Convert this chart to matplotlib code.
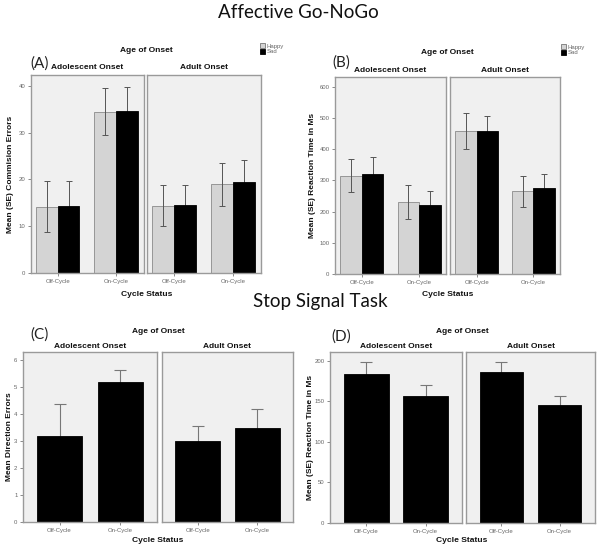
import matplotlib
matplotlib.use("Agg")
import matplotlib.pyplot as plt
from matplotlib.patches import Patch
import numpy as np

# ---------------- data ----------------
onsets = ["Adolescent Onset", "Adult Onset"]
cycles = ["Off-Cycle", "On-Cycle"]
emotions = ["Happy", "Sad"]

# Panel A: Commission errors  [onset][cycle]
a_happy = [[14.2, 34.5], [14.4, 19.0]]
a_happy_se = [[5.4, 5.0], [4.35, 4.6]]
a_sad = [[14.4, 34.7], [14.6, 19.5]]
a_sad_se = [[5.35, 5.1], [4.3, 4.7]]

# Panel B: Reaction time (ms)
b_happy = [[316, 231], [459, 265]]
b_happy_se = [[53, 56], [59, 50]]
b_sad = [[322, 221], [458, 276]]
b_sad_se = [[53, 45], [50, 44]]

# Panel C: direction errors
c_mean = [[3.19, 5.17], [2.99, 3.49]]
c_se = [[1.2, 0.47], [0.55, 0.68]]

# Panel D: SSRT (ms)
d_mean = [[183.6, 156.0], [185.6, 145.4]]
d_se = [[14.4, 14.0], [12.4, 10.6]]

W, H = 604, 551
fig = plt.figure(figsize=(W / 100, H / 100), dpi=100)
fig.patch.set_facecolor("white")

SMALL = ["Liberation Sans", "DejaVu Sans"]
TITLE = ["Lato", "DejaVu Sans"]

def rect(x0, y0, x1, y1):
    return [x0 / W, 1 - y1 / H, (x1 - x0) / W, (y1 - y0) / H]

def ftext(x, y, s, **kw):
    fig.text(x / W, 1 - y / H, s, **kw)

PANEL_BG = "#f0f0f0"
EDGE = "#9a9a9a"
HAPPY = "#d4d4d4"
ERRC = "#555555"

def style_ax(ax, ylim, yticks, show_y):
    ax.set_facecolor(PANEL_BG)
    for s in ax.spines.values():
        s.set_color(EDGE)
        s.set_linewidth(1.0)
    ax.set_ylim(*ylim)
    ax.set_yticks(yticks)
    ax.tick_params(axis="both", length=2.5, width=0.6, color="#777777",
                   labelsize=4.3, labelcolor="#666666", pad=1.5)
    if show_y:
        ax.set_yticklabels([str(t) for t in yticks], fontfamily=SMALL)
    else:
        ax.tick_params(axis="y", left=False, labelleft=False)
    ax.set_xticks(range(len(cycles)))
    ax.set_xticklabels(cycles, fontfamily=SMALL)

def grouped_panel(rects, happy, happy_se, sad, sad_se, ylim, yticks, xlim, w):
    axes = []
    for i, r in enumerate(rects):
        ax = fig.add_axes(r)
        x = np.arange(len(cycles))
        ax.bar(x - w / 2, happy[i], w, color=HAPPY, edgecolor="#8a8a8a",
               linewidth=0.6, zorder=2)
        ax.bar(x + w / 2, sad[i], w, color="black", edgecolor="black",
               linewidth=0.6, zorder=2)
        ax.errorbar(x - w / 2, happy[i], yerr=happy_se[i], fmt="none",
                    ecolor=ERRC, elinewidth=0.7, capsize=2.2, capthick=0.7, zorder=3)
        ax.errorbar(x + w / 2, sad[i], yerr=sad_se[i], fmt="none",
                    ecolor=ERRC, elinewidth=0.7, capsize=2.2, capthick=0.7, zorder=1)
        ax.set_xlim(*xlim)
        style_ax(ax, ylim, yticks, i == 0)
        axes.append(ax)
    return axes

def single_panel(rects, mean, se, ylim, yticks, xlim, w):
    axes = []
    for i, r in enumerate(rects):
        ax = fig.add_axes(r)
        x = np.arange(len(cycles))
        ax.errorbar(x, mean[i], yerr=se[i], fmt="none", ecolor="#777777",
                    elinewidth=0.8, capsize=4.5, capthick=0.8, zorder=1)
        ax.bar(x, mean[i], w, color="black", edgecolor="black", linewidth=0.6,
               zorder=2)
        ax.set_xlim(*xlim)
        style_ax(ax, ylim, yticks, i == 0)
        axes.append(ax)
    return axes

bold_kw = dict(fontfamily=SMALL, fontweight="bold", fontsize=6.0, color="#111111",
               ha="center", va="center")
ylab_kw = dict(fontfamily=SMALL, fontweight="bold", fontsize=6.0, color="#111111",
               ha="center", va="center", rotation=90)

# ---------------- Panel A ----------------
axA = grouped_panel([rect(31, 75, 144, 273), rect(147, 75, 261, 273)],
                    a_happy, a_happy_se, a_sad, a_sad_se,
                    (0, 42.3), [0, 10, 20, 30, 40], (-0.46, 1.48), 0.372)
# ---------------- Panel B ----------------
axB = grouped_panel([rect(335, 77, 446, 274), rect(450, 77, 560, 274)],
                    b_happy, b_happy_se, b_sad, b_sad_se,
                    (0, 632), [0, 100, 200, 300, 400, 500, 600], (-0.47, 1.47), 0.375)
# ---------------- Panel C ----------------
axC = single_panel([rect(23, 352, 157, 522), rect(162, 352, 293, 522)],
                   c_mean, c_se, (0, 6.3), [0, 1, 2, 3, 4, 5, 6], (-0.6, 1.6), 0.75)
# ---------------- Panel D ----------------
axD = single_panel([rect(330, 352, 462, 523), rect(466, 352, 595, 523)],
                   d_mean, d_se, (0, 210.7), [0, 50, 100, 150, 200], (-0.61, 1.61), 0.75)

# strip titles
for axes, ystrip in [(axA, 67.5), (axB, 70), (axC, 346), (axD, 346)]:
    for ax, name in zip(axes, onsets):
        bb = ax.get_position()
        fig.text((bb.x0 + bb.x1) / 2, 1 - ystrip / H, name, **bold_kw)

# Age of Onset headings and Cycle Status
ftext(146.5, 51, "Age of Onset", **bold_kw)
ftext(447.5, 53, "Age of Onset", **bold_kw)
ftext(158, 331.5, "Age of Onset", **bold_kw)
ftext(462, 331.5, "Age of Onset", **bold_kw)

cs_kw = dict(bold_kw, fontsize=6.1)
ftext(146.5, 294, "Cycle Status", **cs_kw)
ftext(447.5, 295, "Cycle Status", **cs_kw)
ftext(158, 540, "Cycle Status", **cs_kw)
ftext(462, 540, "Cycle Status", **cs_kw)

# y labels
ftext(11, 174, "Mean (SE) Commision Errors", **ylab_kw)
ftext(313, 175, "Mean (SE) Reaction Time in Ms", **ylab_kw)
ftext(10, 437, "Mean Direction Errors", **ylab_kw)
ftext(311, 437, "Mean (SE) Reaction Time in Ms", **ylab_kw)

# panel letters
lab_kw = dict(fontfamily=TITLE, fontsize=11, color="#222222", ha="left", va="center")
ftext(30, 64, "(A)", **lab_kw)
ftext(332, 63, "(B)", **lab_kw)
ftext(30, 335, "(C)", **lab_kw)
ftext(331, 337, "(D)", **lab_kw)

# main titles
ttl_kw = dict(fontfamily=TITLE, fontsize=13.5, color="#111111", ha="center", va="center")
ftext(298, 13, "Affective Go-NoGo", **ttl_kw)
ftext(320, 302, "Stop Signal Task", **ttl_kw)

# legends
handles = [Patch(facecolor=HAPPY, edgecolor="#777777", linewidth=0.6, label=emotions[0]),
           Patch(facecolor="black", edgecolor="black", linewidth=0.6, label=emotions[1])]
for (lx, ly) in [(260, 43), (561, 44)]:
    leg = fig.legend(handles=handles, loc="upper left",
                     bbox_to_anchor=(lx / W, 1 - ly / H), frameon=False,
                     handlelength=0.9, handleheight=0.9,
                     handletextpad=0.2, labelspacing=0.05, borderpad=0,
                     borderaxespad=0, prop={"family": SMALL, "size": 4.3})
    for t in leg.get_texts():
        t.set_color("#666666")

fig.savefig("out.png", dpi=100, facecolor="white")
